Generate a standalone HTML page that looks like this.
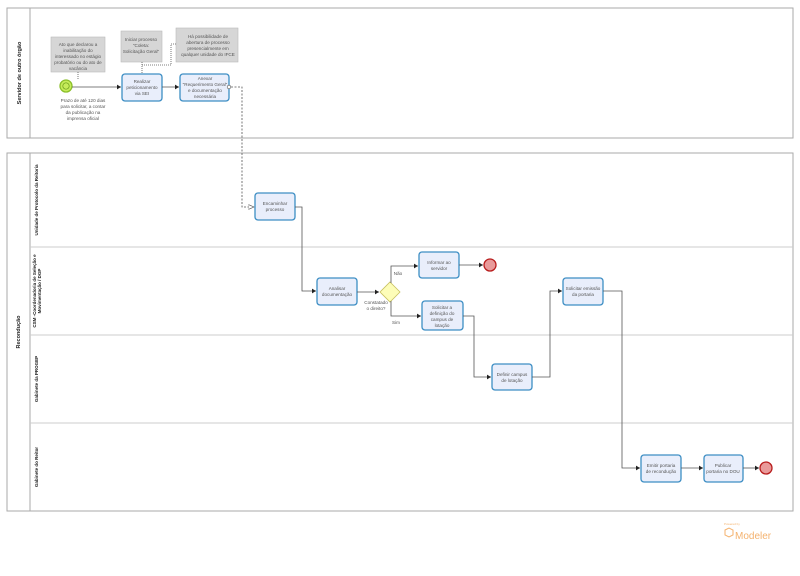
<!DOCTYPE html>
<html><head><meta charset="utf-8"><style>
body{margin:0;background:#fff}
svg{display:block;font-family:"Liberation Sans",sans-serif}
.t{font-size:4.6px;fill:#555;text-anchor:middle}
.lb{font-size:5px;font-weight:bold;fill:#222;text-anchor:middle}
.task{fill:#e9eefb;stroke:#3d8ec4;stroke-width:1.3}
.ln{fill:none;stroke:#555;stroke-width:0.8}
.dot{fill:none;stroke:#555;stroke-width:0.8;stroke-dasharray:1,1}
.ann{fill:#d6d6d6;stroke:#bbb;stroke-width:0.6}
</style></head><body>
<svg width="800" height="576" viewBox="0 0 800 576">
<defs><marker id="a" markerWidth="6" markerHeight="6" refX="5" refY="3" orient="auto"><path d="M0,0L5,3L0,6z" fill="#222"/></marker>
<marker id="h" markerWidth="8" markerHeight="8" refX="7" refY="4" orient="auto"><path d="M0,1L7,4L0,7z" fill="#fff" stroke="#555" stroke-width="0.8"/></marker></defs>
<!-- pool 1 -->
<rect x="7" y="8" width="786" height="130" fill="#fff" stroke="#aaa" stroke-width="1"/>
<line x1="30" y1="8" x2="30" y2="138" stroke="#aaa"/>
<text class="lb" transform="translate(21,73) rotate(-90)" style="font-size:5.5px">Servidor de outro órgão</text>
<!-- pool 2 -->
<rect x="7" y="153" width="786" height="358" fill="#fff" stroke="#aaa" stroke-width="1"/>
<line x1="30" y1="153" x2="30" y2="511" stroke="#aaa"/>
<line x1="30" y1="247" x2="793" y2="247" stroke="#ccc"/>
<line x1="30" y1="335" x2="793" y2="335" stroke="#ccc"/>
<line x1="30" y1="423" x2="793" y2="423" stroke="#ccc"/>
<text class="lb" transform="translate(20,332) rotate(-90)" style="font-size:5.5px">Recondução</text>
<text class="lb" transform="translate(38,200) rotate(-90)" style="font-size:4.5px">Unidade de Protocolo da Reitoria</text>
<text class="lb" transform="translate(36,291) rotate(-90)" style="font-size:4.5px">CSM -Coordenadoria de Seleção e</text>
<text class="lb" transform="translate(41,291) rotate(-90)" style="font-size:4.5px">Movimentação / DGP</text>
<text class="lb" transform="translate(38,379) rotate(-90)" style="font-size:4.5px">Gabinete da PROGEP</text>
<text class="lb" transform="translate(38,467) rotate(-90)" style="font-size:4.5px">Gabinete do Reitor</text>
<!-- annotations -->
<rect class="ann" x="51" y="37" width="54" height="35"/>
<text class="t"><tspan x="78" y="46">Ato que declarou a</tspan><tspan x="78" y="52">inabilitação do</tspan><tspan x="78" y="58">interessado no estágio</tspan><tspan x="78" y="64">probatório ou do ato de</tspan><tspan x="78" y="70">vacância</tspan></text>
<line class="dot" x1="78" y1="72" x2="78" y2="80"/>
<rect class="ann" x="121" y="31" width="41" height="31"/>
<text class="t"><tspan x="141" y="41">Iniciar processo</tspan><tspan x="141" y="47">"Coleta:</tspan><tspan x="141" y="53">Solicitação Geral"</tspan></text>
<line class="dot" x1="142" y1="62" x2="142" y2="74"/>
<rect class="ann" x="176" y="28" width="62" height="34"/>
<text class="t"><tspan x="208" y="38">Há possibilidade de</tspan><tspan x="208" y="44">abertura de processo</tspan><tspan x="208" y="50">presencialmente em</tspan><tspan x="208" y="56">qualquer unidade do IFCE</tspan></text>
<path class="dot" d="M176,44H171V65H142"/>
<!-- start -->
<circle cx="66" cy="86" r="6" fill="#c6ec5a" stroke="#8bbf2a" stroke-width="1.3"/>
<circle cx="66" cy="86" r="3.2" fill="none" stroke="#6a9a1a" stroke-width="0.7"/>
<text class="t"><tspan x="83" y="102">Prazo de até 120 dias</tspan><tspan x="83" y="108">para solicitar, a contar</tspan><tspan x="83" y="114">da publicação na</tspan><tspan x="83" y="120">imprensa oficial</tspan></text>
<line class="ln" x1="72" y1="87" x2="121" y2="87" marker-end="url(#a)"/>
<rect class="task" x="122" y="74" width="40" height="27" rx="3"/>
<text class="t"><tspan x="142" y="83">Realizar</tspan><tspan x="142" y="89">peticionamento</tspan><tspan x="142" y="95">via SEI</tspan></text>
<line class="ln" x1="162" y1="87" x2="179" y2="87" marker-end="url(#a)"/>
<rect class="task" x="180" y="74" width="49" height="27" rx="3"/>
<text class="t"><tspan x="205" y="80">Anexar</tspan><tspan x="205" y="86">"Requerimento Geral"</tspan><tspan x="205" y="92">e documentação</tspan><tspan x="205" y="98">necessária</tspan></text>
<circle cx="229" cy="87" r="1.8" fill="#fff" stroke="#555" stroke-width="0.6"/>
<path d="M231,87H242V207H254" fill="none" stroke="#555" stroke-width="0.8" stroke-dasharray="2,1.5" marker-end="url(#h)"/>
<!-- lane 1 -->
<rect class="task" x="255" y="193" width="40" height="27" rx="3"/>
<text class="t"><tspan x="275" y="205">Encaminhar</tspan><tspan x="275" y="211">processo</tspan></text>
<path class="ln" d="M295,207H302V291H316" marker-end="url(#a)"/>
<rect class="task" x="317" y="278" width="40" height="27" rx="3"/>
<text class="t"><tspan x="337" y="290">Analisar</tspan><tspan x="337" y="296">documentação</tspan></text>
<line class="ln" x1="357" y1="292" x2="379" y2="292" marker-end="url(#a)"/>
<polygon points="390,282 400,292 390,302 380,292" fill="#fdfdb8" stroke="#c8c060" stroke-width="0.8"/>
<text class="t"><tspan x="376" y="304">Constatado</tspan><tspan x="376" y="310">o direito?</tspan></text>
<path class="ln" d="M391,283V266H418" marker-end="url(#a)"/>
<text class="t" x="398" y="275">Não</text>
<path class="ln" d="M391,301V316H421" marker-end="url(#a)"/>
<text class="t" x="396" y="324">Sim</text>
<rect class="task" x="419" y="252" width="40" height="26" rx="3"/>
<text class="t"><tspan x="439" y="264">Informar ao</tspan><tspan x="439" y="270">servidor</tspan></text>
<line class="ln" x1="459" y1="265" x2="483" y2="265" marker-end="url(#a)"/>
<circle cx="490" cy="265" r="6" fill="#e99a9a" stroke="#b81c1c" stroke-width="1.3"/>
<rect class="task" x="422" y="301" width="41" height="29" rx="3"/>
<text class="t"><tspan x="442" y="309">Solicitar a</tspan><tspan x="442" y="315">definição do</tspan><tspan x="442" y="321">campus de</tspan><tspan x="442" y="327">lotação</tspan></text>
<path class="ln" d="M463,316H474V377H491" marker-end="url(#a)"/>
<rect class="task" x="492" y="364" width="40" height="26" rx="3"/>
<text class="t"><tspan x="512" y="376">Definir campus</tspan><tspan x="512" y="382">de lotação</tspan></text>
<path class="ln" d="M532,377H550V291H562" marker-end="url(#a)"/>
<rect class="task" x="563" y="278" width="40" height="27" rx="3"/>
<text class="t"><tspan x="583" y="290">Solicitar emissão</tspan><tspan x="583" y="296">da portaria</tspan></text>
<path class="ln" d="M603,291H622V468H640" marker-end="url(#a)"/>
<rect class="task" x="641" y="455" width="40" height="27" rx="3"/>
<text class="t"><tspan x="661" y="467">Emitir portaria</tspan><tspan x="661" y="473">de recondução</tspan></text>
<line class="ln" x1="681" y1="468" x2="703" y2="468" marker-end="url(#a)"/>
<rect class="task" x="704" y="455" width="39" height="27" rx="3"/>
<text class="t"><tspan x="723" y="467">Publicar</tspan><tspan x="723" y="473">portaria no DOU</tspan></text>
<line class="ln" x1="743" y1="468" x2="759" y2="468" marker-end="url(#a)"/>
<circle cx="766" cy="468" r="6" fill="#e99a9a" stroke="#b81c1c" stroke-width="1.3"/>
<!-- logo -->
<text x="724" y="525" style="font-size:3px;fill:#f4b26e">Powered by</text>
<path d="M725,530l4,-2l4,2v5l-4,2l-4,-2z" fill="none" stroke="#f4b26e" stroke-width="1"/>
<text x="735" y="539" style="font-size:10px;fill:#f4b26e">Modeler</text>
</svg>
</body></html>
